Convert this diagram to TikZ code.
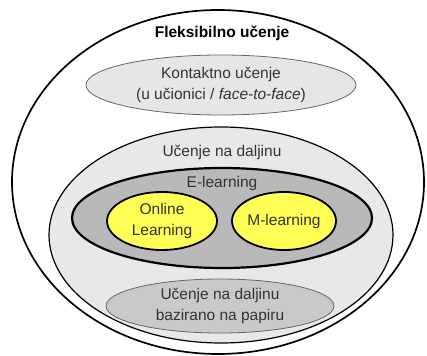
\documentclass[tikz,border=0pt]{standalone}
\usepackage{fontspec}
\setmainfont{Liberation Sans}
\usepackage{xcolor}
\usetikzlibrary{shapes.geometric,positioning}

\definecolor{lightgr}{HTML}{E6E6E6}
\definecolor{midgr}{HTML}{C9C9C9}
\definecolor{darkgr}{HTML}{B9B9B9}
\definecolor{ylw}{HTML}{FFFF55}
\definecolor{txtgr}{HTML}{333333}

\begin{document}
\begin{tikzpicture}[
    x=1pt, y=-1pt,
    oval/.style={ellipse, inner sep=0pt, align=center, font=\fontsize{15.5}{21}\selectfont, text=txtgr},
    outerov/.style={oval, draw=black, line width=1.7pt, fill=white},
    softov/.style={oval, draw=gray!80!black, line width=0.8pt},
    distov/.style={oval, draw=black, line width=1.2pt, fill=lightgr!90!white},
    elov/.style={oval, draw=black, line width=2.2pt, fill=darkgr},
    yelov/.style={oval, draw=black, line width=1.8pt, fill=ylw},
    lbl/.style={font=\fontsize{15.5}{21}\selectfont, text=txtgr, inner sep=0pt}
]
    \useasboundingbox (0,0) rectangle (427,355);

    \node [outerov, minimum width=412pt, minimum height=344pt] (flex) at (218,182) {};
    \node [lbl, text=black, font=\fontsize{15.5}{21}\selectfont\bfseries] (flextxt) at (222,33) {Fleksibilno učenje};

    \node [softov, fill=lightgr, minimum width=270pt, minimum height=60pt] (kont) at (221,85)
        {Kontaktno učenje\\(u učionici / \textit{face-to-face})};

    \node [distov, minimum width=344pt, minimum height=216pt] (dalj) at (221,235) {};
    \node [lbl] (daljtxt) at (222,152) {Učenje na daljinu};

    \node [elov, minimum width=300pt, minimum height=100pt] (elearn) at (222,218) {};
    \node [lbl] (eltxt) at (222,183) {E-learning};

    \node [yelov, minimum width=110pt, minimum height=58pt] (online) at (162,221) {Online\\Learning};
    \node [yelov, minimum width=104pt, minimum height=58pt] (mlearn) at (284,221) {M-learning};

    \node [softov, fill=midgr, minimum width=228pt, minimum height=54pt] (papir) at (220,306)
        {Učenje na daljinu\\bazirano na papiru};
\end{tikzpicture}
\end{document}
